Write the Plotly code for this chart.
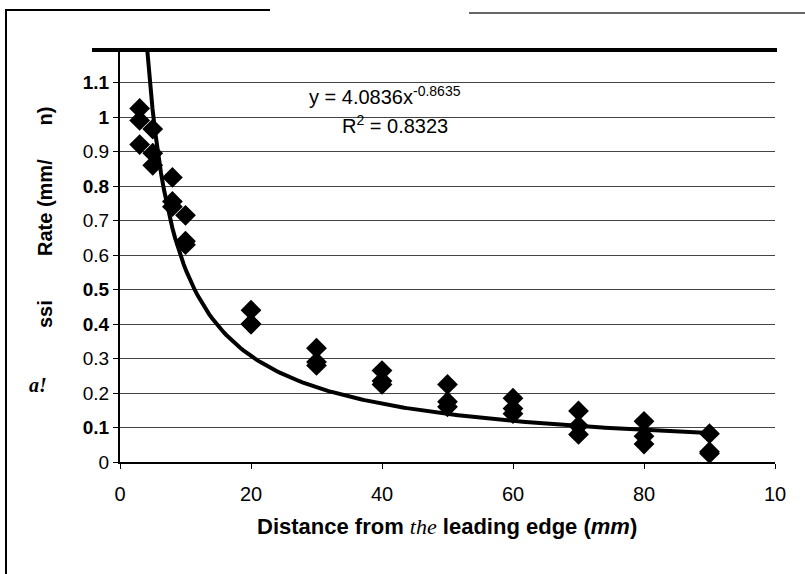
import numpy as np
import plotly.graph_objects as go

# ---- data ----
distance_mm = [3, 3, 3, 5, 5, 5, 8, 8, 8, 10, 10, 10,
               20, 20, 20, 30, 30, 30, 40, 40, 40, 50, 50, 50,
               60, 60, 60, 70, 70, 70, 80, 80, 80, 90, 90, 90]
rate = [1.025, 0.99, 0.92, 0.965, 0.895, 0.86, 0.825, 0.755, 0.74, 0.715, 0.64, 0.63,
        0.44, 0.40, 0.40, 0.33, 0.29, 0.28, 0.265, 0.235, 0.225, 0.225, 0.175, 0.16,
        0.185, 0.155, 0.14, 0.148, 0.105, 0.08, 0.118, 0.075, 0.052, 0.082, 0.03, 0.025]

# power-law trendline shown on the chart: y = a * x^b
fit_a = 4.0836
fit_b = -0.8635
fit_r2 = 0.8323
fit_x_start = 4.1
fit_x_end = 90

x_ticks = [0, 20, 40, 60, 80, 100]
x_tick_labels = ["0", "20", "40", "60", "80", "10"]
y_ticks = [0, 0.1, 0.2, 0.3, 0.4, 0.5, 0.6, 0.7, 0.8, 0.9, 1.0, 1.1, 1.2]
y_tick_labels = ["0", "<b>0.1</b>", "0.2", "0.3", "<b>0.4</b>", "<b>0.5</b>", "0.6", "0.7",
                 "<b>0.8</b>", "0.9", "<b>1</b>", "<b>1.1</b>", ""]

fit_x = np.linspace(fit_x_start, fit_x_end, 200)
fit_y = fit_a * fit_x ** fit_b

# pixel -> paper helpers (plot area: x 120..775, y 48..462)
L, R, T, B = 120, 30, 48, 112
W, H = 805, 574
PW, PH = W - L - R, H - T - B
def px(xp):
    return (xp - L) / PW
def py(yp):
    return (H - B - yp) / PH

fig = go.Figure()
fig.add_trace(go.Scatter(x=fit_x, y=fit_y, mode="lines",
                         line=dict(color="black", width=4), showlegend=False,
                         hoverinfo="skip"))
fig.add_trace(go.Scatter(x=distance_mm, y=rate, mode="markers",
                         marker=dict(symbol="diamond", size=16, color="black"),
                         showlegend=False))

fig.update_layout(
    width=W, height=H,
    margin=dict(l=L, r=R, t=T, b=B),
    paper_bgcolor="white", plot_bgcolor="white",
    font=dict(family="Liberation Sans, Arial, sans-serif", color="black", size=19),
    xaxis=dict(range=[0, 100], tickvals=x_ticks, ticktext=x_tick_labels,
               showgrid=False, zeroline=False, showline=True, linecolor="black",
               linewidth=2, ticks="outside", ticklen=5, tickcolor="black",
               ticklabelstandoff=8, tickfont=dict(size=20)),
    yaxis=dict(range=[0, 1.2], tickvals=y_ticks, ticktext=y_tick_labels,
               showgrid=True, gridcolor="#444444", gridwidth=1,
               zeroline=False, showline=True, linecolor="black", linewidth=2,
               ticks="outside", ticklen=5, tickcolor="black",
               tickfont=dict(size=19)),
    shapes=[
        # white box behind the trendline label (hides gridlines)
        dict(type="rect", xref="paper", yref="paper", x0=px(306), x1=px(475),
             y0=py(84), y1=py(116), fillcolor="white", line=dict(width=0),
             layer="between"),
        # thick line across the top of the plot
        dict(type="line", xref="paper", yref="paper", x0=px(92), x1=px(777),
             y0=py(50), y1=py(50), line=dict(color="black", width=4)),
        # scan border fragments
        dict(type="line", xref="paper", yref="paper", x0=px(5), x1=px(270),
             y0=py(10), y1=py(10), line=dict(color="black", width=2)),
        dict(type="line", xref="paper", yref="paper", x0=px(469), x1=px(805),
             y0=py(13), y1=py(13), line=dict(color="#666666", width=2)),
        dict(type="line", xref="paper", yref="paper", x0=px(6), x1=px(6),
             y0=py(10), y1=py(574), line=dict(color="black", width=2)),
    ],
    annotations=[
        dict(xref="paper", yref="paper", x=px(307), y=py(96), xanchor="left", yanchor="middle",
             text=f"y = {fit_a}x<sup>{fit_b}</sup>", showarrow=False,
             font=dict(size=20)),
        dict(xref="paper", yref="paper", x=px(340), y=py(124), xanchor="left", yanchor="middle",
             text=f"R<sup>2</sup> = {fit_r2}", showarrow=False,
             font=dict(size=20)),
        dict(xref="paper", yref="paper", x=px(32), y=py(105), textangle=-90,
             text="<b>n)</b>", showarrow=False, font=dict(size=20)),
        dict(xref="paper", yref="paper", x=px(32), y=py(208), textangle=-90,
             text="<b>Rate (mm/</b>", showarrow=False, font=dict(size=20)),
        dict(xref="paper", yref="paper", x=px(32), y=py(314), textangle=-90,
             text="<b>ssi</b>", showarrow=False, font=dict(size=20)),
        dict(xref="paper", yref="paper", x=px(27), y=py(398),
             text="<b><i>a!</i></b>", showarrow=False,
             font=dict(size=20, family="Liberation Serif, Times New Roman, serif")),
        dict(xref="paper", yref="paper", x=px(447), y=py(541),
             text=("<b>Distance from </b>"
                   "<span style='font-family:Liberation Serif'><i>the</i></span>"
                   "<b> leading edge (<i>mm</i>)</b>"),
             showarrow=False, font=dict(size=22)),
    ],
)

fig.write_html("out.html", config={"displayModeBar": False},
               post_script="document.body.style.margin='0px';")
